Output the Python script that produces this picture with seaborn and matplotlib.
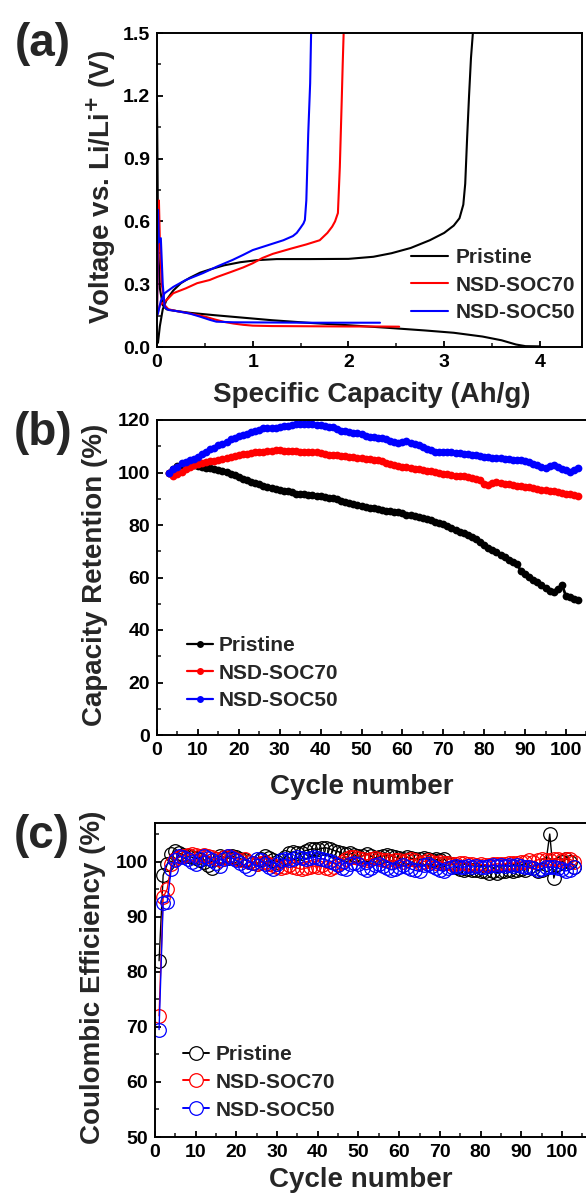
import matplotlib
matplotlib.use("Agg")
import matplotlib.pyplot as plt
from matplotlib.lines import Line2D
from matplotlib.ticker import MultipleLocator
import numpy as np
import pandas as pd
import seaborn as sns

# ---------------- data ----------------
series_names = ["Pristine", "NSD-SOC70", "NSD-SOC50"]
series_colors = ["#000000", "#ff0000", "#0000ff"]

# (a) voltage profiles: discharge (lithiation) and charge (delithiation)
pristine_dis_cap = [0.0, 0.004, 0.008, 0.015, 0.03, 0.06, 0.1, 0.2, 0.35, 0.6, 0.9, 1.2, 1.6, 2.0, 2.4, 2.8, 3.1, 3.4, 3.6, 3.75, 3.85, 4.0]
pristine_dis_v = [1.17, 0.95, 0.7, 0.45, 0.28, 0.2, 0.18, 0.172, 0.163, 0.152, 0.14, 0.128, 0.115, 0.104, 0.092, 0.079, 0.068, 0.05, 0.032, 0.012, 0.004, 0.003]
pristine_chg_cap = [0.01, 0.03, 0.06, 0.1, 0.17, 0.25, 0.34, 0.45, 0.55, 0.7, 0.87, 1.05, 1.25, 1.6, 2.0, 2.26, 2.45, 2.65, 2.85, 3.0, 3.1, 3.16, 3.2, 3.22, 3.24, 3.26, 3.28, 3.3]
pristine_chg_v = [0.02, 0.1, 0.18, 0.225, 0.27, 0.305, 0.33, 0.355, 0.37, 0.39, 0.405, 0.415, 0.42, 0.42, 0.421, 0.431, 0.448, 0.473, 0.51, 0.545, 0.58, 0.615, 0.68, 0.78, 1.0, 1.2, 1.38, 1.5]

soc70_dis_cap = [0.0, 0.01, 0.02, 0.03, 0.05, 0.08, 0.12, 0.2, 0.3, 0.4, 0.5, 0.6, 0.7, 0.8, 0.9, 1.0, 1.2, 1.6, 2.0, 2.3, 2.53]
soc70_dis_v = [0.15, 0.45, 0.7, 0.5, 0.3, 0.2, 0.18, 0.172, 0.164, 0.155, 0.145, 0.132, 0.12, 0.112, 0.106, 0.102, 0.1, 0.099, 0.098, 0.098, 0.097]
soc70_chg_cap = [0.0, 0.03, 0.1, 0.17, 0.3, 0.42, 0.55, 0.63, 0.77, 0.9, 1.0, 1.1, 1.21, 1.4, 1.56, 1.7, 1.78, 1.83, 1.86, 1.89, 1.91, 1.93, 1.94, 1.95]
soc70_chg_v = [0.15, 0.2, 0.224, 0.257, 0.28, 0.305, 0.32, 0.335, 0.358, 0.38, 0.4, 0.425, 0.445, 0.47, 0.49, 0.51, 0.545, 0.575, 0.6, 0.64, 0.86, 1.18, 1.35, 1.5]

soc50_dis_cap = [0.0, 0.01, 0.02, 0.04, 0.06, 0.08, 0.12, 0.2, 0.34, 0.45, 0.55, 0.62, 0.8, 1.2, 1.6, 2.0, 2.33]
soc50_dis_v = [0.15, 0.655, 0.5, 0.52, 0.3, 0.19, 0.177, 0.172, 0.16, 0.145, 0.13, 0.121, 0.118, 0.117, 0.116, 0.116, 0.116]
soc50_chg_cap = [0.0, 0.01, 0.04, 0.08, 0.17, 0.3, 0.48, 0.63, 0.79, 0.9, 1.0, 1.15, 1.32, 1.42, 1.46, 1.5, 1.53, 1.545, 1.56, 1.58, 1.6, 1.61]
soc50_chg_v = [0.15, 0.16, 0.22, 0.257, 0.287, 0.32, 0.353, 0.385, 0.416, 0.44, 0.463, 0.485, 0.51, 0.53, 0.545, 0.57, 0.59, 0.607, 0.7, 1.02, 1.26, 1.5]

# (b) capacity retention, cycles 3-103
retention_cycles = list(range(3, 104))
retention_pristine = [
    100.0, 101.5, 102.6, 103.0, 103.0, 102.9, 102.7, 102.4, 102.1, 101.9,
    101.6, 101.3, 101.0, 100.6, 100.1, 99.6, 98.9, 98.3, 97.7, 97.0,
    96.4, 96.0, 95.5, 95.0, 94.4, 94.0, 93.7, 93.4, 93.1, 92.8,
    92.4, 92.0, 91.9, 91.8, 91.5, 91.3, 91.2, 91.0, 90.6, 90.3,
    90.1, 89.8, 89.3, 88.7, 88.3, 88.0, 87.6, 87.2, 86.7, 86.5,
    86.3, 86.0, 85.8, 85.5, 85.2, 85.0, 84.8, 84.5, 84.0, 83.7,
    83.5, 83.1, 82.7, 82.3, 81.8, 81.3, 80.8, 80.2, 79.6, 78.9,
    78.2, 77.5, 76.8, 76.2, 75.5, 74.6, 73.6, 72.5, 71.4, 70.5,
    69.6, 68.6, 67.8, 66.8, 65.8, 65.2, 62.4, 61.3, 60.2, 59.2,
    58.2, 57.2, 56.1, 55.0, 54.6, 55.5, 57.2, 52.9, 52.5, 51.9,
    51.3,
]
retention_soc70 = [
    100.0, 98.8, 99.5, 100.3, 101.2, 102.0, 102.8, 103.4, 103.8, 104.1,
    104.3, 104.5, 104.8, 105.2, 105.5, 105.9, 106.3, 106.6, 106.9, 107.2,
    107.5, 107.7, 107.9, 108.0, 108.1, 108.3, 108.5, 108.4, 108.2, 108.1,
    108.3, 108.2, 108.0, 107.9, 108.0, 107.8, 107.7, 107.5, 107.0, 106.8,
    106.7, 106.5, 106.3, 106.2, 106.0, 105.8, 105.7, 105.5, 105.3, 105.0,
    104.8, 104.6, 104.2, 103.8, 103.4, 103.0, 102.6, 102.2, 102.0, 101.8,
    101.5, 101.2, 101.0, 100.7, 100.4, 100.2, 99.9, 99.5, 99.3, 99.1,
    98.8, 98.6, 98.5, 98.2, 97.8, 97.5, 97.0, 95.8, 95.2, 96.0,
    96.4, 96.0, 95.7, 95.5, 95.3, 95.0, 94.8, 94.6, 94.3, 94.0,
    93.8, 93.5, 93.3, 93.0, 92.8, 92.5, 92.3, 92.0, 91.7, 91.4,
    91.0,
]
retention_soc50 = [
    100.0, 101.2, 102.2, 103.5, 104.0, 104.6, 105.3, 106.0, 107.0, 108.0,
    108.8, 109.5, 110.3, 111.0, 111.8, 112.6, 113.3, 113.8, 114.3, 114.8,
    115.3, 115.8, 116.3, 116.8, 117.0, 116.8, 117.0, 117.5, 117.8, 117.8,
    118.0, 118.5, 118.6, 118.5, 118.3, 118.4, 118.1, 118.0, 117.7, 117.4,
    117.2, 116.5, 116.0, 115.8, 115.4, 115.2, 115.0, 114.5, 113.8, 113.6,
    113.5, 113.2, 113.0, 112.6, 112.0, 111.5, 111.4, 111.6, 112.0, 111.2,
    110.8, 110.3, 109.8, 109.0, 108.4, 108.0, 107.8, 107.9, 108.0, 107.8,
    107.6, 107.4, 107.2, 107.0, 106.8, 106.5, 106.3, 106.0, 105.9, 105.7,
    105.5, 105.4, 105.2, 105.0, 104.9, 104.8, 104.6, 104.5, 104.0, 103.4,
    102.8, 102.2, 101.7, 102.3, 102.9, 102.0, 101.2, 100.8, 100.3, 100.8,
    101.6,
]

# (c) coulombic efficiency, cycles 1-103
ce_cycles = list(range(1, 104))
ce_pristine = [
    82.0, 97.5, 99.5, 101.3, 102.0, 101.5, 101.2, 101.0, 100.8, 100.6,
    100.3, 100.0, 99.3, 98.8, 100.5, 101.0, 100.8, 100.6, 101.0, 100.8,
    100.5, 100.3, 100.0, 99.8, 99.5, 100.5, 101.0, 100.6, 100.2, 100.0,
    100.3, 100.8, 101.5, 101.8, 101.5, 101.6, 102.0, 102.2, 102.3, 102.2,
    102.4, 102.5, 102.3, 102.0, 101.8, 101.5, 101.3, 101.5, 101.2, 101.0,
    101.0, 101.3, 101.0, 100.7, 100.8, 101.0, 101.2, 101.0, 100.8, 100.6,
    100.5, 100.8, 100.6, 100.5, 100.4, 100.6, 100.5, 100.3, 100.4, 100.2,
    100.5, 99.8, 99.5, 99.0, 98.6, 98.5, 98.6, 98.4, 98.5, 98.3,
    98.2, 98.0, 98.2, 98.0, 98.2, 98.3, 98.5, 98.3, 98.5, 98.6,
    98.5, 99.0, 98.8, 98.3, 98.5, 99.5, 105.0, 97.0, 99.5, 100.0,
    100.5, 100.0, 99.0,
]
ce_soc70 = [
    72.0, 93.5, 95.0, 99.5, 100.5, 100.8, 101.0, 101.2, 101.3, 101.2,
    101.0, 101.2, 101.0, 100.8, 100.5, 100.3, 100.8, 101.0, 100.8, 100.5,
    100.3, 100.5, 100.0, 99.8, 99.5, 99.8, 100.0, 99.5, 99.3, 99.0,
    98.8, 99.0, 99.3, 99.0, 98.8, 98.6, 98.8, 99.0, 99.2, 99.0,
    99.3, 98.8, 98.6, 99.0, 99.5, 100.0, 100.5, 100.8, 100.8, 100.7,
    100.5, 100.3, 100.5, 100.6, 100.5, 100.3, 100.2, 100.0, 100.2, 100.3,
    100.0, 100.2, 100.4, 100.2, 99.8, 100.0, 100.2, 100.0, 99.8, 100.0,
    99.8, 99.8, 99.6, 99.5, 99.7, 99.8, 99.6, 99.5, 99.3, 99.5,
    99.4, 99.3, 99.5, 99.6, 99.5, 99.6, 99.8, 99.7, 99.8, 99.9,
    100.0, 100.2, 100.0, 100.3, 100.5, 100.3, 100.2, 100.5, 100.4, 100.3,
    100.5, 100.4, 100.0,
]
ce_soc50 = [
    69.5, 92.5, 92.7, 98.7, 100.3, 101.0, 100.8, 100.5, 100.0, 99.5,
    100.5, 101.0, 100.6, 100.2, 99.8, 99.2, 100.4, 101.0, 100.6, 100.2,
    99.8, 99.2, 98.6, 99.8, 100.4, 100.2, 99.6, 99.0, 98.6, 99.6,
    100.2, 100.4, 100.2, 100.5, 100.8, 100.6, 100.4, 100.6, 100.8, 100.6,
    100.5, 100.3, 100.1, 99.8, 99.3, 98.8, 98.6, 99.5, 99.8, 99.5,
    98.8, 98.5, 98.8, 99.3, 99.5, 99.2, 98.8, 98.5, 98.6, 99.0,
    99.3, 99.0, 98.6, 98.4, 98.2, 99.3, 99.6, 99.2, 98.8, 98.4,
    98.2, 98.8, 99.0, 99.2, 99.0, 99.0, 99.2, 99.0, 99.2, 99.0,
    99.1, 99.2, 99.3, 99.2, 99.3, 99.2, 99.3, 99.2, 99.3, 99.2,
    99.1, 99.0, 98.8, 98.5, 98.7, 99.0, 99.0, 99.0, 98.8, 98.6,
    98.3, 98.5, 99.0,
]

# ---------------- style ----------------
sns.set_style("ticks")
plt.rcParams["font.family"] = ["Liberation Sans", "DejaVu Sans"]
plt.rcParams["font.weight"] = "bold"
plt.rcParams["axes.labelweight"] = "bold"
plt.rcParams["axes.linewidth"] = 1.4
plt.rcParams["mathtext.default"] = "bf"

W, H = 586, 1195
fig = plt.figure(figsize=(W / 100, H / 100), dpi=100)


def box(left, top, right, bottom):
    return [left / W, 1 - bottom / H, (right - left) / W, (bottom - top) / H]


def ftext(x, y, s, **kw):
    fig.text(x / W, 1 - y / H, s, ha="center", va="center", fontweight="bold", **kw)


def style_axis(ax):
    for sp in ax.spines.values():
        sp.set_visible(True)
        sp.set_linewidth(1.4)
        sp.set_color("black")
    ax.tick_params(which="major", direction="in", length=4.5, width=1.3,
                   labelsize=14, colors="black", pad=5)
    ax.tick_params(which="minor", direction="in", length=3, width=1.2)
    ax.tick_params(top=False, right=False, which="both")
    for lab in ax.get_xticklabels() + ax.get_yticklabels():
        lab.set_fontweight("bold")
    ax.set_xlabel("")
    ax.set_ylabel("")


legend_kw = dict(frameon=False, prop={"size": 15, "weight": "bold"},
                 labelspacing=0.42, borderpad=0, borderaxespad=0,
                 loc="upper left", bbox_transform=fig.transFigure)

# ---------------- (a) ----------------
ax1 = fig.add_axes(box(157, 33, 582, 347))
profiles = [
    (pristine_dis_cap, pristine_dis_v, pristine_chg_cap, pristine_chg_v),
    (soc70_dis_cap, soc70_dis_v, soc70_chg_cap, soc70_chg_v),
    (soc50_dis_cap, soc50_dis_v, soc50_chg_cap, soc50_chg_v),
]
for (dc, dv, cc, cv), col in zip(profiles, series_colors):
    sns.lineplot(x=dc, y=dv, ax=ax1, color=col, lw=1.5, sort=False, estimator=None)
    sns.lineplot(x=cc, y=cv, ax=ax1, color=col, lw=1.5, sort=False, estimator=None)
ax1.set_xlim(0, 4.44)
ax1.set_ylim(0, 1.5)
ax1.xaxis.set_major_locator(MultipleLocator(1))
ax1.xaxis.set_minor_locator(MultipleLocator(0.5))
ax1.yaxis.set_minor_locator(MultipleLocator(0.15))
ax1.set_yticks([0.0, 0.3, 0.6, 0.9, 1.2, 1.5])
ax1.set_yticklabels(["0.0", "0.3", "0.6", "0.9", "1.2", "1.5"])
style_axis(ax1)
handles_a = [Line2D([], [], color=c, lw=1.5) for c in series_colors]
ax1.legend(handles_a, series_names, bbox_to_anchor=(411 / W, 1 - 248 / H),
           handlelength=1.78, handletextpad=0.38, **legend_kw)

# ---------------- (b) ----------------
ax2 = fig.add_axes(box(157, 420, 588.5, 735))
for vals, col in zip([retention_pristine, retention_soc70, retention_soc50], series_colors):
    sns.lineplot(x=retention_cycles, y=vals, ax=ax2, color=col, lw=2.0,
                 marker="o", markersize=5.6, markeredgewidth=0,
                 sort=False, estimator=None)
ax2.set_xlim(0, 105.5)
ax2.set_ylim(0, 120)
ax2.xaxis.set_major_locator(MultipleLocator(10))
ax2.xaxis.set_minor_locator(MultipleLocator(5))
ax2.yaxis.set_major_locator(MultipleLocator(20))
ax2.yaxis.set_minor_locator(MultipleLocator(10))
style_axis(ax2)
handles_b = [Line2D([], [], color=c, lw=1.6, marker="o", markersize=5,
                    markeredgewidth=0) for c in series_colors]
ax2.legend(handles_b, series_names, bbox_to_anchor=(187 / W, 1 - 636 / H),
           handlelength=1.25, handletextpad=0.29, **legend_kw)

# ---------------- (c) ----------------
ax3 = fig.add_axes(box(155, 823, 588, 1137))
for vals, col in zip([ce_pristine, ce_soc70, ce_soc50], series_colors):
    sns.lineplot(x=ce_cycles, y=vals, ax=ax3, color=col, lw=1.0,
                 marker="o", markersize=9.8, markerfacecolor="none",
                 markeredgecolor=col, markeredgewidth=0.9,
                 sort=False, estimator=None)
ax3.set_xlim(0, 106.4)
ax3.set_ylim(50, 107)
ax3.xaxis.set_major_locator(MultipleLocator(10))
ax3.xaxis.set_minor_locator(MultipleLocator(5))
ax3.yaxis.set_major_locator(MultipleLocator(10))
ax3.yaxis.set_minor_locator(MultipleLocator(5))
style_axis(ax3)
handles_c = [Line2D([], [], color=c, lw=1.4, marker="o", markersize=9.8,
                    markerfacecolor="white", markeredgecolor=c,
                    markeredgewidth=0.9) for c in series_colors]
ax3.legend(handles_c, series_names, bbox_to_anchor=(183 / W, 1 - 1045 / H),
           handlelength=1.25, handletextpad=0.3, **legend_kw)

# ---------------- labels ----------------
ftext(372, 395, "Specific Capacity (Ah/g)", fontsize=20)
ftext(101, 187, r"Voltage vs. Li/Li$^{+}$ (V)", fontsize=20, rotation=90)
ftext(362, 787, "Cycle number", fontsize=20)
ftext(95, 575, "Capacity Retention (%)", fontsize=20, rotation=90)
ftext(361, 1180, "Cycle number", fontsize=20)
ftext(93, 977, "Coulombic Efficiency (%)", fontsize=20, rotation=90)
ftext(43, 44, "(a)", fontsize=33)
ftext(43, 433, "(b)", fontsize=33)
ftext(42, 836, "(c)", fontsize=33)

fig.savefig("out.png", dpi=100, facecolor="white")
